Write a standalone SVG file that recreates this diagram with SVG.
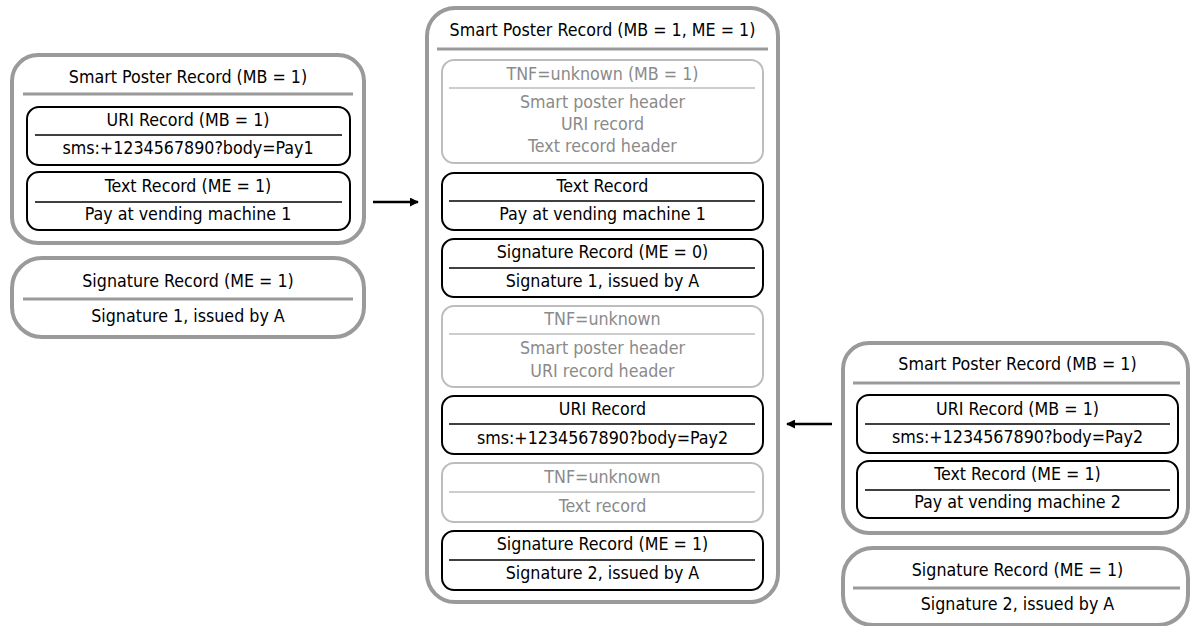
<svg xmlns="http://www.w3.org/2000/svg" width="1190" height="626" viewBox="0 0 1190 626">
<defs>
<style>
text{font-family:"DejaVu Sans Condensed","DejaVu Sans",sans-serif;font-size:17.7px;text-anchor:middle;fill:#000}
.g{fill:#8a8a8a}
.outer{fill:#fff;stroke:#9a9a9a;stroke-width:4}
.osep{stroke:#9a9a9a;stroke-width:3}
.box{fill:#fff;stroke:#000;stroke-width:2}
.bsep{stroke:#000;stroke-width:1.6}
.gbox{fill:#fff;stroke:#bdbdbd;stroke-width:2}
.gsep{stroke:#bdbdbd;stroke-width:1.6}
.arrow{stroke:#000;stroke-width:2.5;fill:none}
</style>
<marker id="ah" viewBox="0 0 10 10" refX="9" refY="5" markerWidth="9" markerHeight="9" markerUnits="userSpaceOnUse" orient="auto">
<path d="M0,0 L10,5 L0,10 Z" fill="#000"/>
</marker>
</defs>
<rect width="1190" height="626" fill="#fff"/>

<g id="left-smart-poster">
<rect class="outer" x="12" y="55" width="352" height="188" rx="26"/>
<text x="188" y="83">Smart Poster Record (MB = 1)</text>
<line class="osep" x1="23" y1="94" x2="353" y2="94"/>
<g id="left-uri">
<rect class="box" x="27" y="107" width="323" height="58" rx="12"/>
<line class="bsep" x1="35" y1="135" x2="342" y2="135"/>
<text x="188" y="126">URI Record (MB = 1)</text>
<text x="188" y="154">sms:+1234567890?body=Pay1</text>
</g>
<g id="left-text">
<rect class="box" x="27" y="172" width="323" height="58" rx="12"/>
<line class="bsep" x1="35" y1="202" x2="342" y2="202"/>
<text x="188" y="192">Text Record (ME = 1)</text>
<text x="188" y="220">Pay at vending machine 1</text>
</g>
</g>

<g id="left-signature">
<rect class="outer" x="12" y="258" width="352" height="79" rx="30"/>
<line class="osep" x1="23" y1="299" x2="353" y2="299"/>
<text x="188" y="287">Signature Record (ME = 1)</text>
<text x="188" y="322">Signature 1, issued by A</text>
</g>

<g id="center-smart-poster">
<rect class="outer" x="427" y="8" width="351" height="594" rx="28"/>
<text x="602.5" y="36">Smart Poster Record (MB = 1, ME = 1)</text>
<line class="osep" x1="437" y1="49" x2="768" y2="49"/>
<g id="c-unknown1">
<rect class="gbox" x="442" y="60" width="321" height="103" rx="12"/>
<line class="gsep" x1="449" y1="88" x2="755" y2="88"/>
<text class="g" x="602.5" y="80">TNF=unknown (MB = 1)</text>
<text class="g" x="602.5" y="108">Smart poster header</text>
<text class="g" x="602.5" y="130">URI record</text>
<text class="g" x="602.5" y="152">Text record header</text>
</g>
<g id="c-text">
<rect class="box" x="442" y="173" width="321" height="57" rx="12"/>
<line class="bsep" x1="449" y1="201" x2="755" y2="201"/>
<text x="602.5" y="192">Text Record</text>
<text x="602.5" y="220">Pay at vending machine 1</text>
</g>
<g id="c-sig1">
<rect class="box" x="442" y="239" width="321" height="58" rx="12"/>
<line class="bsep" x1="449" y1="268" x2="755" y2="268"/>
<text x="602.5" y="258">Signature Record (ME = 0)</text>
<text x="602.5" y="287">Signature 1, issued by A</text>
</g>
<g id="c-unknown2">
<rect class="gbox" x="442" y="306" width="321" height="81" rx="12"/>
<line class="gsep" x1="449" y1="334" x2="755" y2="334"/>
<text class="g" x="602.5" y="325">TNF=unknown</text>
<text class="g" x="602.5" y="354">Smart poster header</text>
<text class="g" x="602.5" y="377">URI record header</text>
</g>
<g id="c-uri">
<rect class="box" x="442" y="396" width="321" height="58" rx="12"/>
<line class="bsep" x1="449" y1="424" x2="755" y2="424"/>
<text x="602.5" y="415">URI Record</text>
<text x="602.5" y="444">sms:+1234567890?body=Pay2</text>
</g>
<g id="c-unknown3">
<rect class="gbox" x="442" y="463" width="321" height="59" rx="12"/>
<line class="gsep" x1="449" y1="492" x2="755" y2="492"/>
<text class="g" x="602.5" y="483">TNF=unknown</text>
<text class="g" x="602.5" y="512">Text record</text>
</g>
<g id="c-sig2">
<rect class="box" x="442" y="531" width="321" height="59" rx="12"/>
<line class="bsep" x1="449" y1="560" x2="755" y2="560"/>
<text x="602.5" y="550">Signature Record (ME = 1)</text>
<text x="602.5" y="579">Signature 2, issued by A</text>
</g>
</g>

<g id="right-smart-poster">
<rect class="outer" x="843" y="343" width="345" height="190" rx="26"/>
<text x="1017.5" y="370">Smart Poster Record (MB = 1)</text>
<line class="osep" x1="853" y1="383" x2="1180" y2="383"/>
<g id="right-uri">
<rect class="box" x="857" y="395" width="321" height="58" rx="12"/>
<line class="bsep" x1="865" y1="424" x2="1170" y2="424"/>
<text x="1017.5" y="415">URI Record (MB = 1)</text>
<text x="1017.5" y="443">sms:+1234567890?body=Pay2</text>
</g>
<g id="right-text">
<rect class="box" x="857" y="461" width="321" height="57" rx="12"/>
<line class="bsep" x1="865" y1="490" x2="1170" y2="490"/>
<text x="1017.5" y="480">Text Record (ME = 1)</text>
<text x="1017.5" y="508">Pay at vending machine 2</text>
</g>
</g>

<g id="right-signature">
<rect class="outer" x="843" y="548" width="345" height="77" rx="30"/>
<line class="osep" x1="853" y1="588" x2="1180" y2="588"/>
<text x="1017.5" y="576">Signature Record (ME = 1)</text>
<text x="1017.5" y="610">Signature 2, issued by A</text>
</g>

<g id="connectors">
<line class="arrow" x1="373" y1="202" x2="418" y2="202" marker-end="url(#ah)"/>
<line class="arrow" x1="832" y1="424" x2="787" y2="424" marker-end="url(#ah)"/>
</g>
</svg>
